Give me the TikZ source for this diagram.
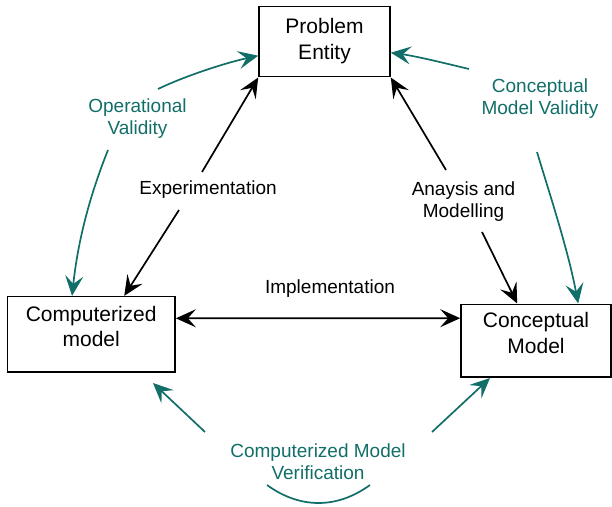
\documentclass[tikz,border=0pt]{standalone}
\usepackage{fontspec}
\setmainfont{Liberation Sans}
\usetikzlibrary{arrows.meta}
\definecolor{tealc}{RGB}{18,110,104}
\tikzset{
  box/.style={draw=black, line width=1.6bp, inner sep=0pt, align=center,
    font=\fontsize{21bp}{25.5bp}\selectfont},
  lbl/.style={inner sep=0pt, align=center, font=\fontsize{19bp}{22bp}\selectfont},
  tlbl/.style={lbl, text=tealc},
  tipst/.tip={Stealth[length=20bp,width=18bp,inset=8bp]},
  arr/.style={line width=1.7bp, -tipst},
  darr/.style={line width=1.7bp, tipst-tipst},
  tarr/.style={arr, draw=tealc, color=tealc},
}
\begin{document}
\begin{tikzpicture}[x=1bp,y=-1bp]
\useasboundingbox (0,0) rectangle (612,507);

% boxes
\node[box, minimum width=131bp, minimum height=70bp] (pe) at (324.5,41.7) {Problem\\Entity\rule[-6bp]{0pt}{0pt}};
\node[box, minimum width=167.7bp, minimum height=75.3bp] (cm) at (91.2,334.3) {Computerized\\model\rule[-16bp]{0pt}{0pt}};
\node[box, minimum width=150bp, minimum height=72.4bp] (cpm) at (536,340.5) {Conceptual\\Model\rule[-15bp]{0pt}{0pt}};

% labels
\node[lbl, anchor=base] (exp) at (208,195) {Experimentation};
\node[lbl] (ana) at (463.5,202) {Anaysis and\\Modelling};
\node[lbl, anchor=base] (imp) at (330,293) {Implementation};
\node[tlbl] (ov) at (137.5,119) {Operational\\Validity};
\node[tlbl] (cmv) at (540,99) {Conceptual\\Model Validity};
\node[tlbl] (cmver) at (318,462) {Computerized Model\\Verification};

% free ends
\coordinate (expA) at (202,172);
\coordinate (expB) at (179,210);
\coordinate (cmT) at ([xshift=117.7bp]cm.north west);
\coordinate (anA) at (446,170);
\coordinate (anB) at (482,232);
\coordinate (cpmT) at ([xshift=57bp]cpm.north west);
\coordinate (cmE) at ([yshift=16bp]cm.east);
\coordinate (cpmW) at ([yshift=22.3bp]cpm.west);

\coordinate (ovA) at (158,89);
\coordinate (peW) at ([yshift=-14bp]pe.west);
\coordinate (ovB) at (108,150);
\coordinate (cmTL) at ([xshift=65.5bp]cm.north west);
\coordinate (cmvA) at (469,69);
\coordinate (peE) at ([yshift=-11bp]pe.east);
\coordinate (cmvB) at (537,152);
\coordinate (cpmTR) at ([xshift=118bp]cpm.north west);
\coordinate (cvA) at (205,432);
\coordinate (cvTL) at (153,383);
\coordinate (cvB) at (432,432);
\coordinate (cvTR) at (490,378);
\coordinate (cvC) at (267,485);
\coordinate (cvD) at (370,485);

% black connectors
\draw[arr] (expA) -- (pe.south west);
\draw[arr] (expB) -- (cmT);
\draw[arr] (anA) -- (pe.south east);
\draw[arr] (anB) -- (cpmT);
\draw[darr] (cmE) -- (cpmW);

% teal connectors
\draw[tarr] (ovA) .. controls (185,76) and (225,63) .. (peW);
\draw[tarr] (ovB) .. controls (90,195) and (78,240) .. (cmTL);
\draw[tarr] (cmvA) .. controls (440,62) and (415,56) .. (peE);
\draw[tarr] (cmvB) .. controls (550,195) and (568,250) .. (cpmTR);
\draw[tarr] (cvA) -- (cvTL);
\draw[tarr] (cvB) -- (cvTR);
\draw[line width=1.7bp, tealc] (cvC) .. controls (300,509) and (337,509) .. (cvD);
\end{tikzpicture}
\end{document}
